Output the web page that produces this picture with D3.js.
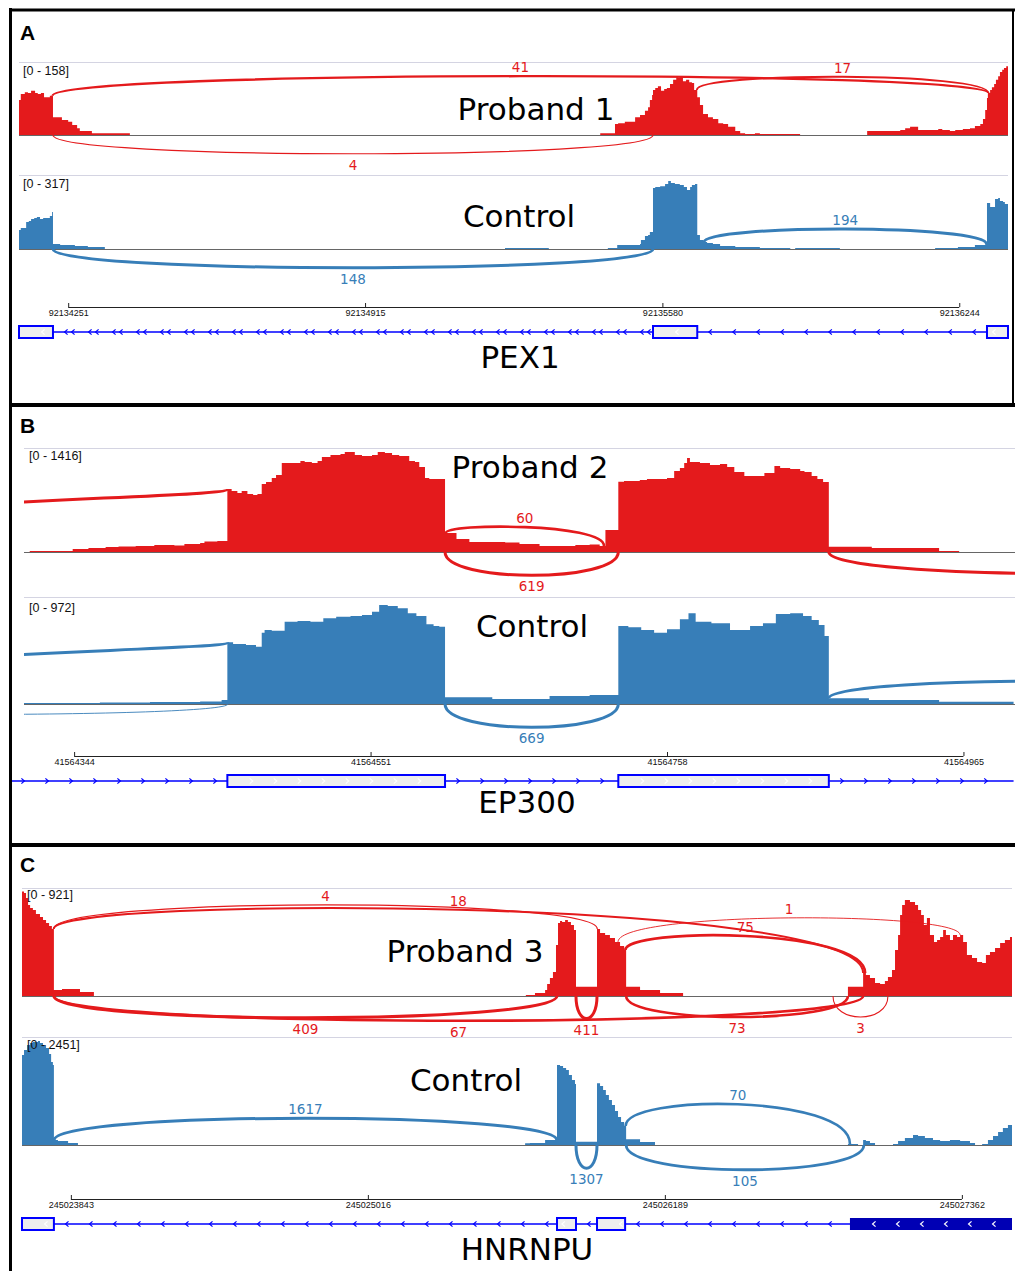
<!DOCTYPE html>
<html lang="en">
<head>
<meta charset="UTF-8" />
<title>Sashimi plots - PEX1, EP300, HNRNPU</title>
<script src="https://d3js.org/d3.v7.min.js"></script>
<style>
  body { margin: 0; background: #fff; }
</style>
</head>
<body>
<svg id="fig" width="1015" height="1271"></svg>
<script>
// ---------- data (coverage = [bp offset from region start, depth]; step function) ----------

// Panel A : PEX1
const startA = 92134141, endA = 92136353;
const ticksA = [92134251, 92134915, 92135580, 92136244];
const maxProband1 = 158, maxControlA = 317;
const covProband1 = [
  [0,77],[4,90],[13,94],[20,92],[27,97],[36,92],[42,90],[49,92],[56,83],[63,83],[69,86],[76,39],[96,33],[110,29],[119,22],[130,15],[136,9],[163,4],[248,0],
  [1300,4],[1333,24],[1340,26],[1355,29],[1378,39],[1389,44],[1400,53],[1407,61],[1411,77],[1416,88],[1418,99],[1423,103],[1429,107],[1436,97],[1443,101],[1449,103],[1456,112],[1463,121],[1470,127],[1474,125],[1478,129],[1485,118],[1492,121],[1499,116],[1505,114],[1510,99],[1517,83],[1523,66],[1530,46],[1541,39],[1552,35],[1564,26],[1575,24],[1586,18],[1602,9],[1613,4],[1624,2],[1646,4],[1657,2],[1747,0],
  [1897,9],[1971,11],[1982,15],[1993,18],[2004,18],[2011,11],[2049,11],[2056,13],[2065,11],[2082,9],[2094,11],[2111,13],[2127,15],[2138,20],[2150,24],[2156,35],[2161,55],[2165,81],[2167,92],[2172,99],[2176,105],[2181,112],[2185,121],[2190,129],[2194,138],[2199,143],[2203,147],[2208,151],[2212,151]
];
const covControlA = [
  [0,82],[4,91],[11,91],[16,117],[22,122],[27,130],[34,135],[40,139],[47,130],[54,135],[63,135],[69,143],[74,161],[76,22],[92,17],[125,13],[154,9],[192,0],
  [1087,4],[1185,0],[1317,4],[1338,17],[1389,22],[1391,39],[1400,56],[1407,61],[1411,74],[1418,265],[1423,269],[1434,273],[1445,282],[1452,295],[1458,287],[1467,282],[1478,278],[1487,269],[1494,256],[1501,269],[1505,278],[1512,282],[1517,61],[1523,39],[1530,30],[1539,26],[1552,22],[1568,13],[1602,9],[1657,4],[1725,0],[1736,4],[1836,0],
  [2049,4],[2100,9],[2138,17],[2161,22],[2165,200],[2172,182],[2183,217],[2190,221],[2194,208],[2201,204],[2205,195],[2212,195]
];
// junctions: [start offset, end offset, read count, side]
const juncProband1 = [[75, 2168, 41, "up"], [1516, 2168, 17, "up"], [76, 1418, 4, "down"]];
const juncControlA = [[76, 1418, 148, "down"], [1532, 2164, 194, "up"]];
const exonsPEX1 = [[0, 76], [1418, 1517], [2165, 2212]];

// Panel B : EP300
const startB = 41564309, endB = 41565001;
const ticksB = [41564344, 41564551, 41564758, 41564965];
const maxProband2 = 1416, maxControlB = 972;
const covProband2 = [
  [0,0],[4,14],[34,41],[45,55],[57,69],[66,76],[78,83],[91,96],[105,89],[112,110],[123,124],[126,144],[135,151],
  [142,866],[145,839],[149,811],[152,839],[156,798],[160,784],[163,798],[166,935],[169,962],[173,1018],[176,1059],[180,1224],[186,1224],[193,1251],[196,1238],[201,1224],[205,1251],[208,1306],[214,1334],[221,1348],[224,1375],[231,1334],[236,1320],[243,1334],[247,1375],[252,1361],[257,1334],[262,1320],[269,1251],[273,1238],[276,1169],[280,1018],[283,1004],
  [294,261],[302,179],[311,138],[336,131],[346,110],[360,83],[385,96],[395,103],[402,83],[406,302],
  [415,966],[419,976],[430,990],[435,1004],[449,1018],[454,1114],[458,1155],[461,1224],[463,1293],[465,1238],[472,1224],[479,1196],[486,1210],[491,1169],[496,1100],[503,1045],[517,1086],[524,1183],[528,1155],[535,1141],[542,1114],[545,1100],[550,1045],[554,1004],[558,962],
  [562,73],[592,55],[639,14],[653,0],[691,0]
];
const covControlB = [
  [0,10],[53,14],[88,18],[123,24],[138,37],
  [142,566],[146,550],[155,541],[162,526],[166,654],[168,679],[173,672],[182,755],[191,761],[200,755],[209,786],[218,801],[228,807],[236,816],[243,846],[248,908],[254,899],[261,878],[268,832],[274,807],[281,731],[286,715],[290,709],
  [294,61],[327,46],[367,73],[395,83],
  [415,715],[422,703],[431,679],[440,654],[449,685],[458,777],[464,832],[469,755],[480,740],[493,679],[507,715],[516,740],[525,825],[535,832],[544,807],[550,770],[555,724],[559,624],
  [562,52],[590,37],[639,21],[691,21]
];
const juncProband2 = [[-226, 142.4, 600, "up"], [294.5, 405, 60, "up"], [294, 415, 619, "down"], [562, 901, 600, "down"]];
const juncControlB = [[-226, 142.4, 600, "up"], [-226, 142.4, 2, "down"], [294, 415, 669, "down"], [562, 901, 600, "up"]];
const exonsEP300 = [[142, 294], [415, 562]];

// Panel C : HNRNPU
const startC = 245023650, endC = 245027560;
const ticksC = [245023843, 245025016, 245026189, 245027362];
const maxProband3 = 921, maxControlC = 2451;
const covProband3 = [
  [0,899],[8,887],[16,843],[24,783],[32,757],[43,740],[55,706],[71,680],[83,654],[95,628],[107,602],[118,577],[126,52],[158,60],[229,34],[284,0],
  [1990,9],[2026,26],[2066,52],[2074,103],[2085,155],[2097,207],[2109,439],[2117,628],[2125,645],[2133,637],[2145,654],[2156,637],[2168,611],[2180,568],[2188,80],
  [2271,577],[2283,542],[2303,525],[2322,499],[2342,465],[2362,430],[2378,396],[2386,80],[2441,52],[2520,26],[2611,0],
  [3262,80],[3322,198],[3333,181],[3349,155],[3369,112],[3389,103],[3408,129],[3420,164],[3436,224],[3448,396],[3460,525],[3468,697],[3476,783],[3487,826],[3507,809],[3527,783],[3539,740],[3551,697],[3562,611],[3574,671],[3586,525],[3602,465],[3614,482],[3626,508],[3638,568],[3649,525],[3665,482],[3677,525],[3693,508],[3705,525],[3717,465],[3732,353],[3752,327],[3772,293],[3792,284],[3807,353],[3823,379],[3843,413],[3863,456],[3882,482],[3902,508],[3910,508]
];
const covControlC = [
  [0,2061],[8,2176],[20,2290],[32,2336],[43,2359],[63,2382],[71,2336],[83,2290],[95,2221],[107,2084],[115,1901],[122,1832],[126,114],[142,92],[182,46],[221,0],
  [1987,38],[2006,46],[2066,114],[2113,1832],[2125,1809],[2137,1763],[2149,1717],[2160,1603],[2172,1488],[2184,1397],[2188,76],
  [2271,1412],[2283,1351],[2295,1259],[2306,1145],[2318,1031],[2330,916],[2342,779],[2354,641],[2366,527],[2378,435],[2386,130],[2441,69],[2500,0],
  [3262,23],[3302,0],[3322,114],[3333,92],[3349,46],[3369,0],[3440,23],[3460,92],[3487,160],[3519,229],[3539,206],[3566,160],[3598,114],[3626,92],[3665,114],[3705,92],[3744,46],[3764,0],[3792,23],[3815,114],[3835,206],[3855,298],[3874,389],[3894,458],[3910,458]
];
const juncProband3 = [[125, 2272, 4, "up"], [125, 3322, 18, "up"], [2354, 3705, 1, "up"], [2383, 3330, 75, "up"],
  [126, 2113, 409, "down"], [126, 3322, 67, "down"], [2188, 2271, 411, "down"], [2386, 3262, 73, "down"], [3203, 3420, 3, "down"]];
const juncControlC = [[127, 2112, 1617, "up"], [2384, 3270, 70, "up"], [2188, 2271, 1307, "down"], [2386, 3325, 105, "down"]];
const exonsHNRNPU = [[0, 126], [2113, 2188], [2271, 2382]];
const cdsHNRNPU = [[3270, 3910]];

// ---------- layout ----------
const RED = "#e41a1c", BLUE = "#377eb8", GENE = "#0000ff";
const BIG_FONT = "'DejaVu Sans', Verdana, sans-serif";
const SMALL_FONT = "'Liberation Sans', Arial, sans-serif";

// control-point lift of each arc (px)
const liftProband1 = [23, 18, 25], liftControlA = [25, 17.6];
const liftProband2 = [-11, 10, 31, 29], liftControlB = [-10, 14, 31, 24];
const liftProband3 = [32, 33, 24, 22.5, 29, 33, 30, 28, 28], liftControlC = [29, 32, 31, 33];

const panels = [
  { letter: "A", letterY: 40, start: startA, end: endA, x0: 19, x1: 1008, axisY: 307, ticks: ticksA,
    tracks: [
      { name: "Proband 1", cov: covProband1, max: maxProband1, junc: juncProband1, lift: liftProband1, color: RED, grid: 62, base: 135, nameX: 536, nameY: 120, rangeX: 23, rangeY: 75 },
      { name: "Control", cov: covControlA, max: maxControlA, junc: juncControlA, lift: liftControlA, color: BLUE, grid: 175, base: 249, nameX: 519, nameY: 227, rangeX: 23, rangeY: 188 }
    ],
    gene: { name: "PEX1", y: 332, line: [0, 2212], exons: exonsPEX1, cds: [], strand: -1, nameX: 520, nameY: 368, extra: [76, 1418, 7] } },
  { letter: "B", letterY: 433, start: startB, end: endB, x0: 24, x1: 1015, axisY: 756, ticks: ticksB,
    tracks: [
      { name: "Proband 2", cov: covProband2, max: maxProband2, junc: juncProband2, lift: liftProband2, color: RED, grid: 448, base: 552, nameX: 530, nameY: 478, rangeX: 29, rangeY: 460 },
      { name: "Control", cov: covControlB, max: maxControlB, junc: juncControlB, lift: liftControlB, color: BLUE, grid: 597, base: 704, nameX: 532, nameY: 637, rangeX: 29, rangeY: 612 }
    ],
    gene: { name: "EP300", y: 781, line: [-20, 691], exons: exonsEP300, cds: [], strand: 1, nameX: 527, nameY: 813, extra: null } },
  { letter: "C", letterY: 872, start: startC, end: endC, x0: 22, x1: 1012, axisY: 1199, ticks: ticksC,
    tracks: [
      { name: "Proband 3", cov: covProband3, max: maxProband3, junc: juncProband3, lift: liftProband3, color: RED, grid: 888, base: 996, nameX: 465, nameY: 962, rangeX: 27, rangeY: 899 },
      { name: "Control", cov: covControlC, max: maxControlC, junc: juncControlC, lift: liftControlC, color: BLUE, grid: 1037, base: 1145, nameX: 466, nameY: 1091, rangeX: 27, rangeY: 1049 }
    ],
    gene: { name: "HNRNPU", y: 1224, line: [0, 3910], exons: exonsHNRNPU, cds: cdsHNRNPU, strand: -1, nameX: 527, nameY: 1260, extra: null } }
];

const svg = d3.select("#fig");
const arcWidth = d3.scaleLog().domain([2, 150]).range([0.9, 3]).clamp(true);

function depthAt(cov, off) {
  if (off < cov[0][0] || off > cov[cov.length - 1][0]) return 0;
  let v = 0;
  for (const [p, d] of cov) {
    if (p <= off) v = d; else break;
  }
  return v;
}

function chevron(g, cx, cy, dir, color) {
  g.append("path")
    .attr("d", `M${cx - dir * 1.6},${cy - 2.6}L${cx + dir * 1.4},${cy}L${cx - dir * 1.6},${cy + 2.6}`)
    .attr("fill", "none")
    .attr("stroke", color)
    .attr("stroke-width", 1.2);
}

function drawTrack(g, x, p, t, clipId) {
  const y = d3.scaleLinear().domain([0, t.max]).range([t.base, t.grid + 1]);
  const px = off => x(p.start + off);

  g.append("line")
    .attr("x1", p.x0).attr("x2", p.x1)
    .attr("y1", t.grid + 0.5).attr("y2", t.grid + 0.5)
    .attr("stroke", "#d4d4e2");

  const area = d3.area()
    .curve(d3.curveStepAfter)
    .x(d => px(d[0]))
    .y0(t.base)
    .y1(d => y(d[1]));

  g.append("path").datum(t.cov).attr("d", area).attr("fill", t.color);

  g.append("line")
    .attr("x1", p.x0).attr("x2", p.x1)
    .attr("y1", t.base + 0.5).attr("y2", t.base + 0.5)
    .attr("stroke", "#666");

  const arcs = g.append("g").attr("clip-path", `url(#${clipId})`);
  t.junc.forEach((j, i) => {
    const [s, e, count, side] = j;
    const x1 = px(s), x2 = px(e);
    let y1, y2, c;
    if (side === "up") {
      y1 = y(depthAt(t.cov, s));
      y2 = y(depthAt(t.cov, e));
      c = Math.min(y1, y2) - t.lift[i];
    } else {
      y1 = y2 = t.base;
      c = t.base + t.lift[i];
    }
    const path = d3.path();
    path.moveTo(x1, y1);
    path.bezierCurveTo(x1, c, x2, c, x2, y2);
    arcs.append("path")
      .attr("d", path.toString())
      .attr("fill", "none")
      .attr("stroke", t.color)
      .attr("stroke-width", arcWidth(count));

    const mx = (x1 + x2) / 2, my = (y1 + 6 * c + y2) / 8;
    if (mx > p.x0 && mx < p.x1) {
      g.append("text")
        .attr("x", mx)
        .attr("y", side === "up" ? my - 4 : my + 16)
        .attr("text-anchor", "middle")
        .attr("font-family", BIG_FONT)
        .attr("font-size", 13.5)
        .attr("fill", t.color)
        .text(count);
    }
  });

  g.append("text")
    .attr("x", t.rangeX).attr("y", t.rangeY)
    .attr("font-family", SMALL_FONT)
    .attr("font-size", 12.5)
    .attr("fill", "#111")
    .text(`[0 - ${t.max}]`);

  g.append("text")
    .attr("x", t.nameX).attr("y", t.nameY)
    .attr("text-anchor", "middle")
    .attr("font-family", BIG_FONT)
    .attr("font-size", 31)
    .attr("fill", "#000")
    .text(t.name);
}

function drawAxis(g, x, p) {
  const axis = d3.axisBottom(x)
    .tickValues(p.ticks)
    .tickSize(-4)
    .tickPadding(3)
    .tickFormat(d3.format("d"));
  const a = g.append("g")
    .attr("transform", `translate(0,${p.axisY})`)
    .call(axis);
  a.select(".domain").remove();
  a.selectAll(".tick line").attr("stroke", "#222");
  a.selectAll(".tick text")
    .attr("font-family", SMALL_FONT)
    .attr("font-size", 9)
    .attr("fill", "#111");
  a.append("line")
    .attr("x1", x(p.ticks[0])).attr("x2", x(p.ticks[p.ticks.length - 1]))
    .attr("y1", 0.5).attr("y2", 0.5)
    .attr("stroke", "#222");
}

function drawGene(g, x, p) {
  const ge = p.gene;
  const px = off => x(p.start + off);
  const gy = ge.y;
  const gg = g.append("g");

  const lx0 = Math.max(10, px(ge.line[0])), lx1 = px(ge.line[1]);
  gg.append("line")
    .attr("x1", lx0).attr("x2", lx1)
    .attr("y1", gy).attr("y2", gy)
    .attr("stroke", GENE).attr("stroke-width", 1.6);

  // intron chevrons, one run per gap between blocks
  const blocks = ge.exons.concat(ge.cds).map(b => [px(b[0]), px(b[1])]).sort((a, b) => a[0] - b[0]);
  const edges = [lx0].concat(blocks.flat()).concat([lx1]);
  for (let k = 0; k < edges.length; k += 2) {
    const a = edges[k], b = edges[k + 1];
    if (b - a < 10) continue;
    d3.range(a + 13, b - 4, 24).forEach(cx => chevron(gg, cx, gy, ge.strand, GENE));
  }
  if (ge.extra) {
    const [s, e, shift] = ge.extra;
    d3.range(px(s) + 13 + shift, px(e) - 4, 24).forEach(cx => chevron(gg, cx, gy, ge.strand, GENE));
  }

  ge.exons.forEach(b => {
    const a = px(b[0]), e = px(b[1]);
    gg.append("rect")
      .attr("x", a).attr("y", gy - 6)
      .attr("width", e - a).attr("height", 12)
      .attr("fill", "#eeeeee")
      .attr("stroke", GENE).attr("stroke-width", 2);
    const inner = d3.range(a + 24, e - 4, 24);
    (inner.length ? inner : [a + (e - a) / 3]).forEach(cx => chevron(gg, cx, gy, ge.strand, "#ffffff"));
  });
  ge.cds.forEach(b => {
    const a = px(b[0]), e = px(b[1]);
    gg.append("rect")
      .attr("x", a).attr("y", gy - 6)
      .attr("width", e - a).attr("height", 12)
      .attr("fill", "#0000b4");
    d3.range(a + 24, e - 4, 24).forEach(cx => chevron(gg, cx, gy, ge.strand, "#ffffff"));
  });

  gg.append("text")
    .attr("x", ge.nameX).attr("y", ge.nameY)
    .attr("text-anchor", "middle")
    .attr("font-family", BIG_FONT)
    .attr("font-size", 31)
    .attr("fill", "#000")
    .text(ge.name);
}

panels.forEach(p => {
  const x = d3.scaleLinear().domain([p.start, p.end]).range([p.x0, p.x1]);
  const clipId = "clip" + p.letter;
  svg.append("clipPath").attr("id", clipId)
    .append("rect")
    .attr("x", p.x0).attr("y", 0)
    .attr("width", p.x1 - p.x0).attr("height", 1271);

  const g = svg.append("g");
  p.tracks.forEach(t => drawTrack(g, x, p, t, clipId));
  drawAxis(g, x, p);
  drawGene(g, x, p);

  svg.append("text")
    .attr("x", 20).attr("y", p.letterY)
    .attr("font-family", SMALL_FONT)
    .attr("font-weight", "bold")
    .attr("font-size", 21)
    .text(p.letter);
});

// panel frame
const frame = svg.append("g").attr("stroke", "#000");
frame.append("line")
  .attr("x1", 10.5).attr("x2", 10.5)
  .attr("y1", 8).attr("y2", 1271)
  .attr("stroke-width", 3);
frame.append("line")
  .attr("x1", 1013).attr("x2", 1013)
  .attr("y1", 9).attr("y2", 405)
  .attr("stroke-width", 2);
[[10, 3], [405, 4], [845, 4]].forEach(([yy, w]) => {
  frame.append("line")
    .attr("x1", 9).attr("x2", 1015)
    .attr("y1", yy).attr("y2", yy)
    .attr("stroke-width", w);
});
</script>
</body>
</html>
